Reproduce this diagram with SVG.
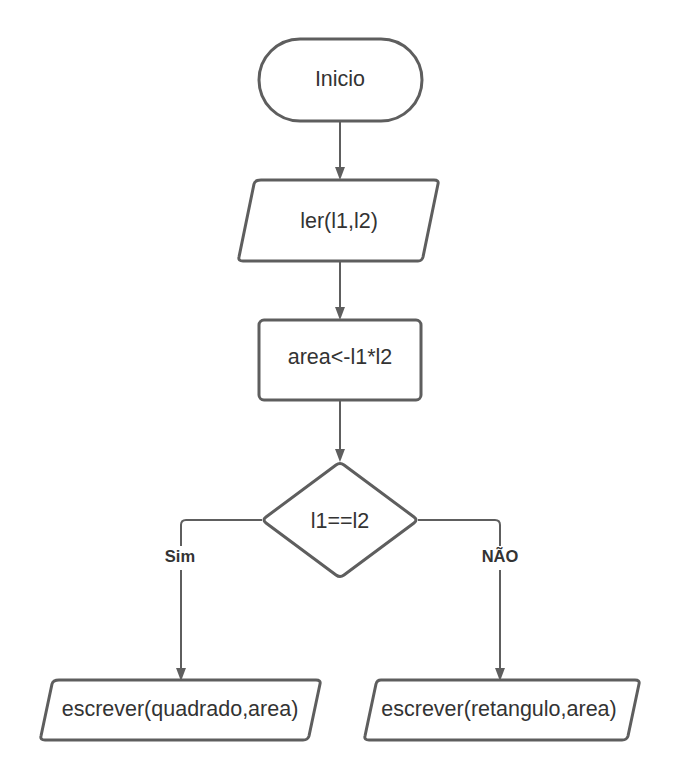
<svg xmlns="http://www.w3.org/2000/svg" width="680" height="780" viewBox="0 0 680 780">
<defs>
<style>
.shape{fill:#ffffff;stroke:#5e5e5e;stroke-width:3;stroke-linejoin:round}
.conn{fill:none;stroke:#5e5e5e;stroke-width:2}
.txt{font-family:"Liberation Sans",Arial,sans-serif;font-size:21.5px;fill:#333333;text-anchor:middle}
.lbl{font-family:"Liberation Sans",Arial,sans-serif;font-size:16.5px;font-weight:bold;fill:#333333;text-anchor:middle}
</style>
<marker id="arr" markerWidth="13" markerHeight="17" refX="13" refY="6.5" orient="auto" markerUnits="userSpaceOnUse" viewBox="0 0 17 13">
<path d="M0,0 L17,6.5 L0,13 Z" fill="#5e5e5e"/>
</marker>
</defs>
<rect width="680" height="780" fill="#ffffff"/>
<g id="connectors">
<path class="conn" d="M340,121 V177" marker-end="url(#arr)"/>
<path class="conn" d="M340,261 V317" marker-end="url(#arr)"/>
<path class="conn" d="M340,400 V459" marker-end="url(#arr)"/>
<path class="conn" d="M262,520 H186 Q181,520 181,525 V546"/>
<path class="conn" d="M181,570 V678" marker-end="url(#arr)"/>
<path class="conn" d="M418,520 H495 Q500,520 500,525 V546"/>
<path class="conn" d="M500,570 V678" marker-end="url(#arr)"/>
<text class="lbl" x="180" y="562">Sim</text>
<text class="lbl" x="500" y="562">NÃO</text>
</g>
<g id="inicio">
<rect class="shape" x="259" y="39" width="163" height="82" rx="41"/>
<text class="txt" x="340" y="86">Inicio</text>
</g>
<g id="ler">
<path class="shape" d="M261,180 L434,180 Q439,180 438,184 L423,257 Q422,261 418,261 L243,261 Q238,261 239,257 L254,184 Q255,180 261,180 Z"/>
<text class="txt" x="339" y="228">ler(l1,l2)</text>
</g>
<g id="area">
<rect class="shape" x="259" y="320" width="162" height="80" rx="5"/>
<text class="txt" x="340" y="364">area&lt;-l1*l2</text>
</g>
<g id="decisao">
<path class="shape" d="M336,465 Q340,462 344,465 L414,517 Q418,520 414,523 L344,575 Q340,578 336,575 L266,523 Q262,520 266,517 Z"/>
<text class="txt" x="340" y="528">l1==l2</text>
</g>
<g id="quadrado">
<path class="shape" d="M59,680 L316,680 Q321,680 320,684 L309,736 Q308,740 303,740 L45,740 Q40,740 41,736 L52,684 Q53,680 59,680 Z"/>
<text class="txt" x="180" y="716">escrever(quadrado,area)</text>
</g>
<g id="retangulo">
<path class="shape" d="M381,680 L635,680 Q640,680 639,684 L628,736 Q627,740 622,740 L369,740 Q364,740 365,736 L376,684 Q377,680 381,680 Z"/>
<text class="txt" x="499" y="716">escrever(retangulo,area)</text>
</g>
</svg>
